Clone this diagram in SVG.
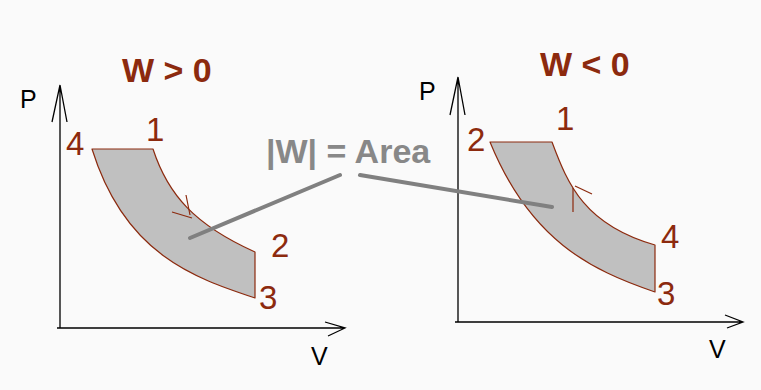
<svg xmlns="http://www.w3.org/2000/svg" width="761" height="390" viewBox="0 0 761 390">
<style>
.axis{stroke:#000;stroke-width:1.3;fill:none}
.cyc{fill:#c0c0c0;stroke:#8c2a0e;stroke-width:1.2;stroke-linejoin:round}
.dir{stroke:#8c2a0e;stroke-width:1.2;fill:none}
.ptr{stroke:#808080;stroke-width:4;fill:none;stroke-linecap:round}
.ax{font-family:"Liberation Sans",Arial,sans-serif;font-size:25px;fill:#000}
.num{font-family:"Liberation Sans",Arial,sans-serif;font-size:33px;fill:#8c2a0e}
.ttl{font-family:"Liberation Sans",Arial,sans-serif;font-size:34px;font-weight:bold;fill:#8c2a0e}
.area{font-family:"Liberation Sans",Arial,sans-serif;font-size:34px;font-weight:bold;fill:#888}
</style>
<rect width="761" height="390" fill="#fafafa"/>
<g id="plot-left">
<path class="cyc" d="M92,149 L153,149 C168,195 195,225 255,252 L255,298 C195,278 125,255 92,149 Z"/>
<path class="axis" d="M60,85 L60,328 M57,328 L345,328 M52,122 L60,85 L67,122 M325,322 L345,328 L328,336"/>
<path class="dir" d="M186,195 L190,215 M172,212 L192,218"/>
<text class="ax" x="20" y="108">P</text>
<text class="ax" x="311" y="365">V</text>
<text class="ttl" x="122" y="82">W &gt; 0</text>
<text class="num" x="66" y="155">4</text>
<text class="num" x="146" y="141">1</text>
<text class="num" x="271" y="257">2</text>
<text class="num" x="259" y="309">3</text>
</g>
<g id="plot-right">
<path class="cyc" d="M490,142 L552,142 C568,185 585,225 655,245 L655,292 C590,270 530,240 490,142 Z"/>
<path class="axis" d="M458,77 L458,322 M455,322 L743,322 M450,115 L458,77 L465,115 M725,315 L743,322 L727,328"/>
<path class="dir" d="M573,212 L573,188 M575,186 L592,194"/>
<text class="ax" x="419" y="100">P</text>
<text class="ax" x="709" y="358">V</text>
<text class="ttl" x="540" y="76">W &lt; 0</text>
<text class="num" x="467" y="151">2</text>
<text class="num" x="556" y="130">1</text>
<text class="num" x="661" y="248">4</text>
<text class="num" x="657" y="305">3</text>
</g>
<g id="label-area">
<text class="area" x="266" y="163">|W| = Area</text>
</g>
<g id="connectors">
<path class="ptr" d="M190,238 L340,175"/>
<path class="ptr" d="M360,175 L552,207"/>
</g>
</svg>
